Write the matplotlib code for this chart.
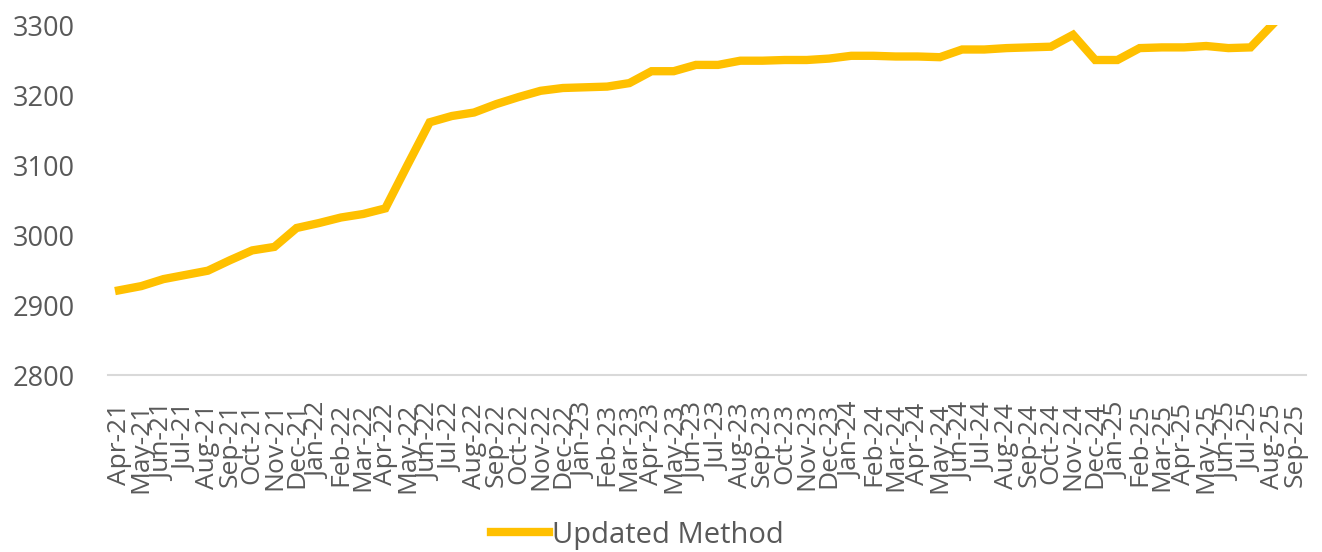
import matplotlib

matplotlib.use("Agg")
import matplotlib.pyplot as plt


MONTHS = [
    "Apr-21", "May-21", "Jun-21", "Jul-21", "Aug-21", "Sep-21", "Oct-21", "Nov-21", "Dec-21",
    "Jan-22", "Feb-22", "Mar-22", "Apr-22", "May-22", "Jun-22", "Jul-22", "Aug-22", "Sep-22",
    "Oct-22", "Nov-22", "Dec-22", "Jan-23", "Feb-23", "Mar-23", "Apr-23", "May-23", "Jun-23",
    "Jul-23", "Aug-23", "Sep-23", "Oct-23", "Nov-23", "Dec-23", "Jan-24", "Feb-24", "Mar-24",
    "Apr-24", "May-24", "Jun-24", "Jul-24", "Aug-24", "Sep-24", "Oct-24", "Nov-24", "Dec-24",
    "Jan-25", "Feb-25", "Mar-25", "Apr-25", "May-25", "Jun-25", "Jul-25", "Aug-25", "Sep-25",
]

# Sep-25 has no value yet
UPDATED_METHOD = [
    2921, 2927, 2937, 2943, 2949, 2964, 2978, 2983, 3010,
    3017, 3025, 3030, 3038, 3100, 3161, 3170, 3175, 3187,
    3197, 3206, 3210, 3211, 3212, 3217, 3234, 3234, 3243,
    3243, 3249, 3249, 3250, 3250, 3252, 3256, 3256, 3255,
    3255, 3254, 3265, 3265, 3267, 3268, 3269, 3286, 3250,
    3250, 3267, 3268, 3268, 3270, 3267, 3268, 3301,
]

LINE_COLOR = "#FFC000"
TEXT_COLOR = "#595959"

plt.rcParams["font.family"] = ["Open Sans", "DejaVu Sans"]

fig = plt.figure(figsize=(13.22, 5.52), dpi=100)
ax = fig.add_axes([108 / 1322, 177 / 552, 1198 / 1322, 350 / 552])

positions = list(range(len(UPDATED_METHOD)))
ax.plot(positions, UPDATED_METHOD, color=LINE_COLOR, linewidth=6,
        solid_joinstyle="miter", label="Updated Method")

ax.set_xlim(-0.5, len(MONTHS) - 0.5)
ax.set_ylim(2800, 3300)
ax.set_yticks([2800, 2900, 3000, 3100, 3200, 3300])
ax.set_xticks(range(len(MONTHS)))
ax.set_xticklabels(MONTHS, rotation=90, fontsize=19, color=TEXT_COLOR)
ax.tick_params(axis="x", length=0, pad=20)
ax.tick_params(axis="y", length=0, pad=24, labelsize=19.5, labelcolor=TEXT_COLOR)

for side in ("top", "right", "left"):
    ax.spines[side].set_visible(False)
ax.spines["bottom"].set_color("#D9D9D9")
ax.spines["bottom"].set_linewidth(1.5)

fig.legend(
    loc="center",
    bbox_to_anchor=(637 / 1322, 1 - 535 / 552),
    frameon=False,
    fontsize=21,
    labelcolor=TEXT_COLOR,
    handlelength=2.0,
    handletextpad=0.1,
)

fig.savefig("out.png", dpi=100)
